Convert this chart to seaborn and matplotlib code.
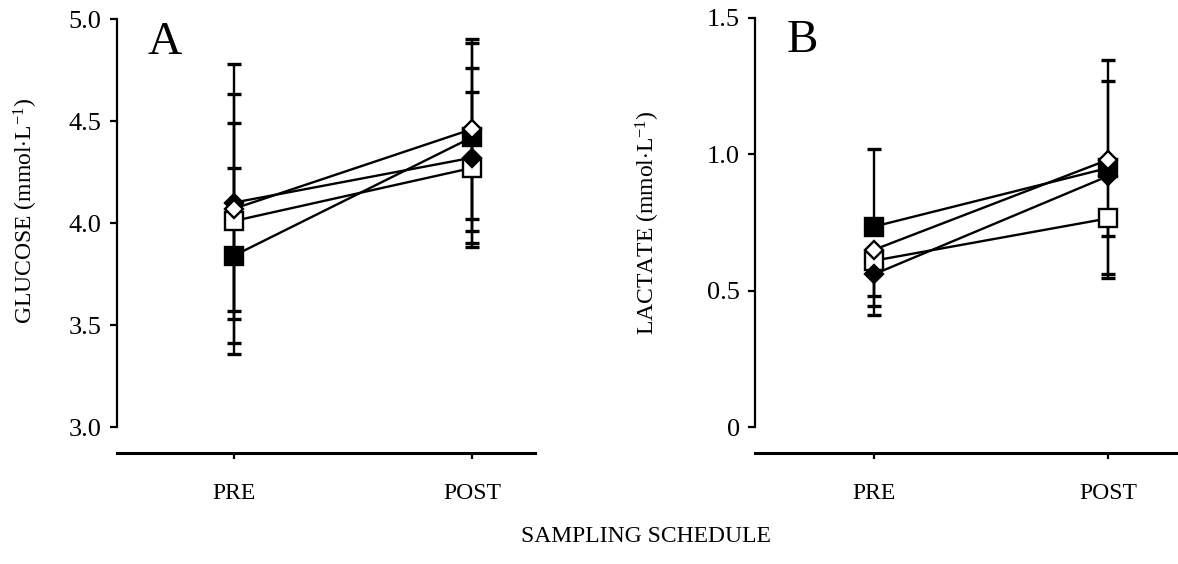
import matplotlib
matplotlib.use("Agg")
import matplotlib.pyplot as plt
import seaborn as sns
import numpy as np

# Sampling points
times = ["PRE", "POST"]

# Series styling order: filled square, open square, filled diamond, open diamond
series = ["sq_filled", "sq_open", "dia_filled", "dia_open"]

# Glucose (mmol/L): means and SD
glu_pre = [3.84, 4.01, 4.10, 4.07]
glu_post = [4.42, 4.27, 4.32, 4.46]
glu_pre_err = [0.43, 0.48, 0.53, 0.71]
glu_post_err = [0.46, 0.37, 0.44, 0.44]

# Lactate (mmol/L): means with lower / upper error extents
lac_pre = [0.735, 0.61, 0.56, 0.65]
lac_post = [0.95, 0.765, 0.92, 0.98]
lac_pre_lo = [0.0, 0.165, 0.08, 0.24]
lac_pre_hi = [0.285, 0.0, 0.0, 0.0]
lac_post_lo = [0.39, 0.065, 0.375, 0.0]
lac_post_hi = [0.395, 0.0, 0.0, 0.29]

glu_ticks = [3.0, 3.5, 4.0, 4.5, 5.0]
glu_ticklabels = ["3.0", "3.5", "4.0", "4.5", "5.0"]
lac_ticks = [0.0, 0.5, 1.0, 1.5]
lac_ticklabels = ["0", "0.5", "1.0", "1.5"]

sns.set_style("ticks")
plt.rcParams["font.family"] = ["Liberation Serif", "DejaVu Serif"]
plt.rcParams["mathtext.fontset"] = "custom"
plt.rcParams["mathtext.rm"] = "Liberation Serif"
plt.rcParams["mathtext.it"] = "Liberation Serif:italic"
for key in ["text.color", "axes.labelcolor", "xtick.color", "ytick.color",
            "axes.edgecolor"]:
    plt.rcParams[key] = "black"

marker_style = {
    "sq_filled": dict(marker="s", markersize=12.5, markerfacecolor="black"),
    "sq_open": dict(marker="s", markersize=12.5, markerfacecolor="white"),
    "dia_filled": dict(marker="D", markersize=9.5, markerfacecolor="black"),
    "dia_open": dict(marker="D", markersize=9.5, markerfacecolor="white"),
}

W, H = 1178, 564
fig = plt.figure(figsize=(W / 100, H / 100), dpi=100)
axA = fig.add_axes([117 / W, 1 - 427 / H, (535 - 117) / W, (427 - 19) / H])
axB = fig.add_axes([755 / W, 1 - 427 / H, (1177 - 755) / W, (427 - 18) / H])


def draw_panel(ax, pre, post, pre_lo, pre_hi, post_lo, post_hi):
    for i, name in enumerate(series):
        y = [pre[i], post[i]]
        lo = [pre_lo[i], post_lo[i]]
        hi = [pre_hi[i], post_hi[i]]
        ax.errorbar(times, y, yerr=[lo, hi], fmt="none", ecolor="black",
                    elinewidth=1.7, capsize=5, capthick=2.4, zorder=2)
        sns.lineplot(x=times, y=y, ax=ax, color="black", linewidth=1.7,
                     markeredgecolor="black", markeredgewidth=1.7,
                     sort=False, zorder=3, **marker_style[name])


draw_panel(axA, glu_pre, glu_post, glu_pre_err, glu_pre_err,
           glu_post_err, glu_post_err)
draw_panel(axB, lac_pre, lac_post, lac_pre_lo, lac_pre_hi,
           lac_post_lo, lac_post_hi)

for ax, ticks, labels, ylim, xlim in [
    (axA, glu_ticks, glu_ticklabels, (3.0, 5.0), (-0.4916, 1.265)),
    (axB, lac_ticks, lac_ticklabels, (0.0, 1.5), (-0.5085, 1.295)),
]:
    ax.set_ylim(*ylim)
    ax.set_xlim(*xlim)
    ax.set_yticks(ticks)
    ax.set_yticklabels(labels)
    ax.set_xticks([0, 1])
    ax.set_xticklabels(times)
    sns.despine(ax=ax)
    ax.spines["left"].set_linewidth(1.6)
    ax.spines["bottom"].set_linewidth(2.2)
    ax.spines["bottom"].set_position(("outward", 18.5))
    ax.tick_params(axis="y", length=5, width=1.6, pad=6, labelsize=19,
                   direction="out")
    ax.tick_params(axis="x", length=4, width=1.6, pad=18, labelsize=17,
                   direction="out")
    ax.set_xlabel("")

axA.set_ylabel(r"GLUCOSE (mmol$\cdot$L$^{-1}$)", fontsize=17)
axB.set_ylabel(r"LACTATE (mmol$\cdot$L$^{-1}$)", fontsize=17)
axA.yaxis.set_label_coords(-0.184, 0.53)
axB.yaxis.set_label_coords(-0.22, 0.50)

fig.text(147 / W, 1 - 21 / H, "A", fontsize=34, ha="left", va="top")
fig.text(787 / W, 1 - 20 / H, "B", fontsize=34, ha="left", va="top")
fig.text(646 / W, 1 - 537 / H, "SAMPLING SCHEDULE", fontsize=17,
         ha="center", va="center")

fig.savefig("out.png", dpi=100, facecolor="white")
